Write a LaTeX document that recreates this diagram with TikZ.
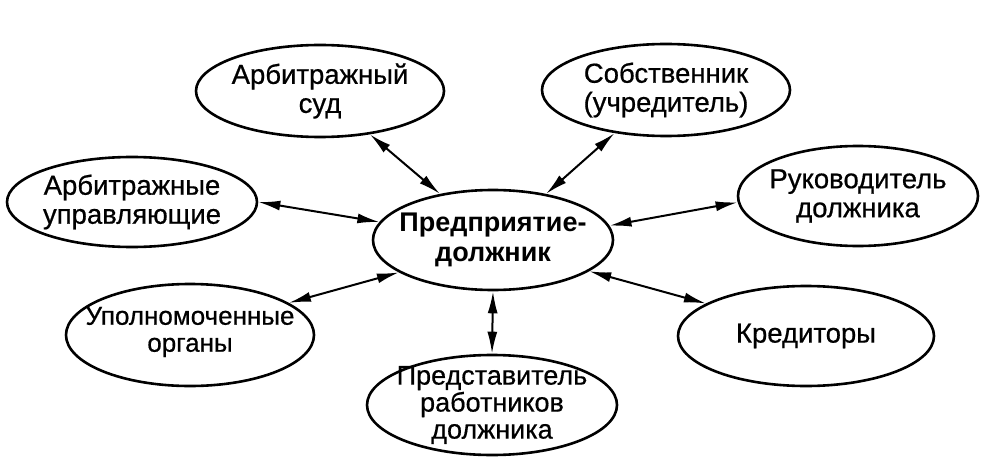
\documentclass[tikz,border=0pt]{standalone}
\usepackage{fontspec}
\setmainfont{Liberation Sans}
\newfontfamily\regfont[FakeBold=0.6]{Liberation Sans}
\usetikzlibrary{arrows.meta,shapes.geometric}
\begin{document}
\begin{tikzpicture}[x=1pt,y=-1pt,
  ell/.style={draw, ellipse, line width=2.6pt, inner sep=0pt},
  txt/.style={align=center, font=\regfont\fontsize{27.5}{29}\selectfont, inner sep=0pt},
  link/.style={line width=2pt, {Latex[length=22pt,width=10pt]}-{Latex[length=22pt,width=10pt]}}]
\useasboundingbox (0,0) rectangle (998,468);
\fill[white] (0,0) rectangle (998,468);
% ellipses
\node[ell, minimum width=240pt, minimum height=100pt] (c) at (493,240) {};
\node[ell, minimum width=248pt, minimum height=92pt] (sud) at (320,91) {};
\node[ell, minimum width=248pt, minimum height=92pt] (own) at (666,90) {};
\node[ell, minimum width=250pt, minimum height=90pt] (upr) at (132,202) {};
\node[ell, minimum width=240pt, minimum height=100pt] (ruk) at (858,196) {};
\node[ell, minimum width=248pt, minimum height=102pt] (upo) at (190,335) {};
\node[ell, minimum width=256pt, minimum height=100pt] (kre) at (806,336) {};
\node[ell, minimum width=250pt, minimum height=100pt] (pre) at (492,405) {};
% texts
\node[txt, font=\fontsize{27}{30}\bfseries] (tc) at (c) {Предприятие-\\должник};
\node[txt] (tsud) at (sud) {Арбитражный\\суд};
\node[txt] (town) at (own) {Собственник\\(учредитель)};
\node[txt] (tupr) at (upr) {Арбитражные\\управляющие};
\node[txt] (truk) at (ruk) {Руководитель\\должника};
\node[txt, font=\regfont\fontsize{26}{27}\selectfont] (tupo) at ([yshift=3pt]upo) {Уполномоченные\\органы};
\node[txt] (tkre) at (kre) {Кредиторы};
\node[txt, font=\regfont\fontsize{27}{27}\selectfont] (tpre) at (pre) {Представитель\\работников\\должника};
% connectors
\draw[link] (c.139.5) -- (sud.-41.5);
\draw[link] (c.41.6) -- (own.220.6);
\draw[link] (c.171) -- (upr.-0.5);
\draw[link] (c.199) -- (upo.18);
\draw[link] (c.7.9) -- (ruk.183.3);
\draw[link] (c.-18.4) -- (kre.162.4);
\draw[link] (c.-90) -- (pre.90);
\end{tikzpicture}
\end{document}
